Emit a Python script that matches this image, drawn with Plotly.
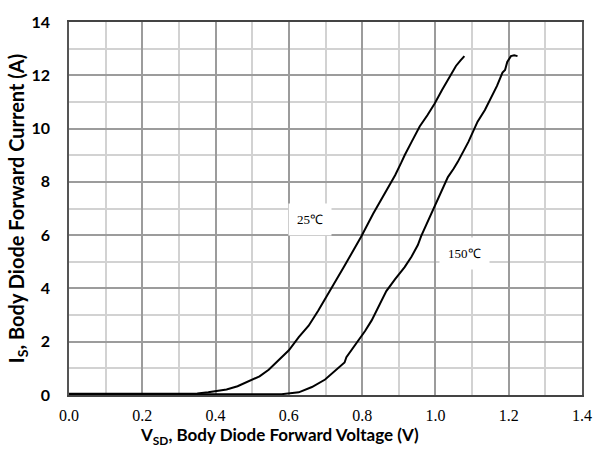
import plotly.graph_objects as go

# 25 °C curve
v_25 = [0.0, 0.1, 0.2, 0.3, 0.35, 0.38, 0.41, 0.43, 0.46, 0.49, 0.52, 0.545, 0.572, 0.6,
        0.627, 0.654, 0.68, 0.695, 0.72, 0.75, 0.775, 0.798, 0.83, 0.862, 0.89, 0.907,
        0.916, 0.935, 0.957, 0.978, 0.998, 1.018, 1.038, 1.056, 1.068, 1.079]
i_25 = [0.05, 0.05, 0.05, 0.05, 0.06, 0.1, 0.18, 0.21, 0.33, 0.5, 0.7, 0.95, 1.3, 1.68,
        2.17, 2.6, 3.16, 3.5, 4.1, 4.8, 5.4, 5.96, 6.8, 7.56, 8.25, 8.73,
        9.0, 9.5, 10.08, 10.5, 10.94, 11.45, 11.92, 12.35, 12.55, 12.72]

# 150 °C curve
v_150 = [0.0, 0.2, 0.4, 0.5, 0.55, 0.58, 0.627, 0.663, 0.699, 0.726, 0.745, 0.752, 0.757,
         0.775, 0.79, 0.808, 0.826, 0.845, 0.866, 0.89, 0.916, 0.935, 0.952, 0.961, 0.979,
         0.998, 1.015, 1.034, 1.05, 1.061, 1.09, 1.115, 1.135, 1.151, 1.168, 1.183, 1.19,
         1.196, 1.206, 1.215, 1.224]
i_150 = [0.03, 0.03, 0.03, 0.02, 0.02, 0.03, 0.1, 0.3, 0.58, 0.89, 1.12, 1.22, 1.42,
         1.75, 2.06, 2.4, 2.8, 3.35, 3.9, 4.35, 4.8, 5.2, 5.63, 5.96, 6.5,
         7.1, 7.6, 8.18, 8.5, 8.75, 9.5, 10.26, 10.7, 11.12, 11.6, 12.1, 12.2,
         12.5, 12.72, 12.75, 12.72]

x_ticks = [0.0, 0.2, 0.4, 0.6, 0.8, 1.0, 1.2, 1.4]
x_tick_text = ["0.0", "0.2", "0.4", "0.6", "0.8", "1.0", "1.2", "1.4"]
y_ticks = [0, 2, 4, 6, 8, 10, 12, 14]

fig = go.Figure()
fig.add_trace(go.Scatter(x=v_25, y=i_25, mode="lines",
                         line=dict(color="black", width=2), showlegend=False))
fig.add_trace(go.Scatter(x=v_150, y=i_150, mode="lines",
                         line=dict(color="black", width=2), showlegend=False))

fig.add_annotation(x=0.658, y=6.6, xref="x", yref="y", text="25℃", showarrow=False,
                   font=dict(family="Liberation Serif", size=13, color="black"),
                   bgcolor="white", borderpad=8)
fig.add_annotation(x=1.078, y=5.3, xref="x", yref="y", text="150℃", showarrow=False,
                   font=dict(family="Liberation Serif", size=13, color="black"),
                   bgcolor="white", borderpad=8)

fig.add_annotation(x=0.411, y=-0.111, xref="paper", yref="paper",
                   text="V<sub>SD</sub>, Body Diode Forward Voltage (V)", showarrow=False,
                   xanchor="center", yanchor="middle",
                   font=dict(family="Lato", size=17, color="black", weight="bold"))

fig.update_layout(
    width=604, height=451,
    margin=dict(l=69, r=19, t=16, b=56),
    paper_bgcolor="white", plot_bgcolor="white",
    xaxis=dict(range=[0, 1.4], tickvals=x_ticks, ticktext=x_tick_text,
               showgrid=True, gridcolor="#9c9c9c", gridwidth=1.5,
               minor=dict(dtick=0.1, showgrid=True, gridcolor="#d2d2d2", gridwidth=1.5),
               showline=True, linecolor="#444", linewidth=1.5, mirror=True,
               ticks="", ticklabelstandoff=5, zeroline=False,
               tickfont=dict(family="Liberation Serif", size=16, color="black")),
    yaxis=dict(range=[0, 14], tickvals=y_ticks,
               showgrid=True, gridcolor="#9c9c9c", gridwidth=1.5,
               minor=dict(dtick=1, showgrid=True, gridcolor="#d2d2d2", gridwidth=1.5),
               showline=True, linecolor="#555", linewidth=1.5, mirror=True,
               ticks="", ticklabelstandoff=14, zeroline=False,
               tickfont=dict(family="Lato", size=16, color="black", weight="bold"),
               title=dict(text="I<sub>S</sub>, Body Diode Forward Current (A)", standoff=1,
                          font=dict(family="Lato", size=20, color="black", weight="bold"))),
)

fig.write_html("out.html")
